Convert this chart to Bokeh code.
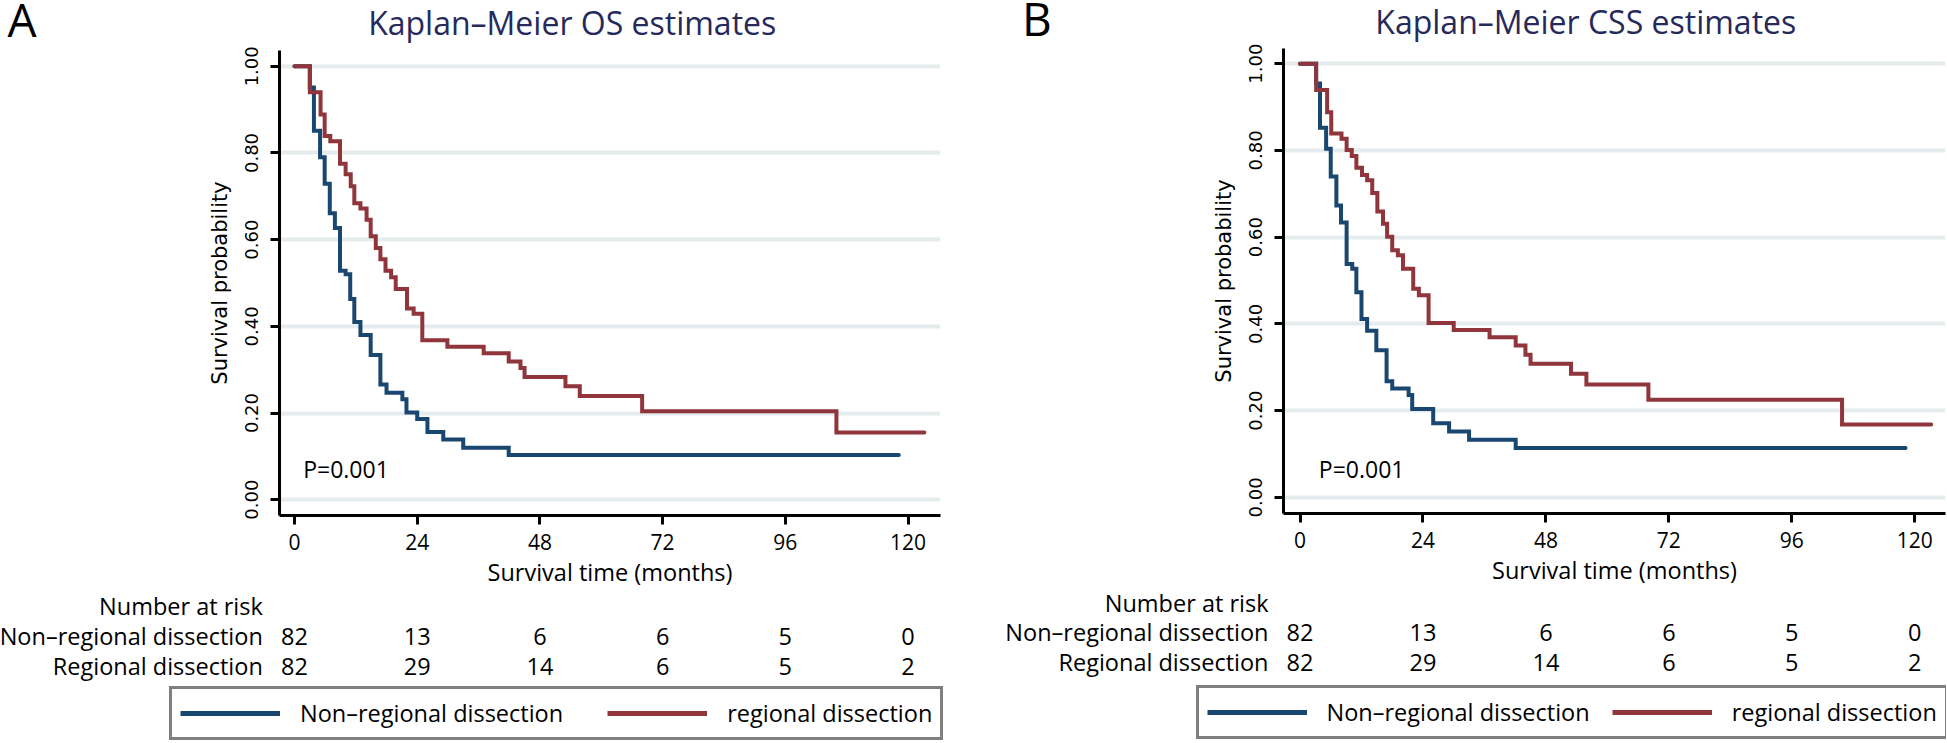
import numpy as np
from bokeh.plotting import figure
from bokeh.models import (Range1d, FixedTicker, LabelSet, ColumnDataSource,
                          Legend, LegendItem, NumeralTickFormatter)
from bokeh.layouts import row, column
from bokeh.core.properties import value
from bokeh.embed import file_html
from bokeh.resources import INLINE

# ---------------- data ----------------
risk_times = [0, 24, 48, 72, 96, 120]
risk_nonreg = [82, 13, 6, 6, 5, 0]
risk_reg = [82, 29, 14, 6, 5, 2]
x_ticks = [0, 24, 48, 72, 96, 120]
y_ticks = [0.0, 0.2, 0.4, 0.6, 0.8, 1.0]

# Overall survival (panel A)
os_nonreg_t = [0, 3.0, 3.8, 5.0, 5.9, 6.9, 7.9, 8.9, 10.0, 10.9, 11.7, 12.9, 14.9, 16.8,
               18.0, 21.1, 21.9, 24.0, 26.0, 29.1, 33.0, 41.9, 118.2]
os_nonreg_s = [1.0, 0.951, 0.851, 0.790, 0.729, 0.661, 0.627, 0.528, 0.520, 0.463, 0.410,
               0.380, 0.334, 0.266, 0.247, 0.232, 0.201, 0.186, 0.156, 0.139, 0.120, 0.103, 0.103]
os_reg_t = [0, 3.0, 5.1, 5.9, 7.0, 8.9, 10.0, 11.0, 11.7, 12.9, 14.1, 14.9, 15.9, 16.8, 17.8,
            18.9, 19.8, 22.0, 23.3, 25.0, 29.9, 37.0, 41.9, 44.2, 45.0, 53.0, 55.8, 68.0,
            106.0, 123.2]
os_reg_s = [1.0, 0.940, 0.889, 0.839, 0.827, 0.775, 0.751, 0.723, 0.684, 0.672, 0.646, 0.608,
            0.581, 0.555, 0.528, 0.513, 0.486, 0.441, 0.429, 0.368, 0.353, 0.338, 0.319, 0.304,
            0.283, 0.262, 0.239, 0.204, 0.155, 0.155]

# Cancer-specific survival (panel B)
css_nonreg_t = [0, 3.15, 3.9, 5.1, 6.0, 7.1, 8.0, 9.1, 10.2, 11.0, 12.0, 13.1, 14.9, 16.9,
                18.0, 21.2, 21.9, 26.0, 29.1, 33.0, 42.1, 118.2]
css_nonreg_s = [1.0, 0.954, 0.852, 0.804, 0.740, 0.673, 0.634, 0.538, 0.527, 0.473, 0.411,
                0.384, 0.339, 0.268, 0.251, 0.236, 0.204, 0.171, 0.152, 0.133, 0.114, 0.114]
css_reg_t = [0, 3.15, 5.3, 6.1, 8.1, 9.1, 10.1, 11.0, 12.1, 13.1, 14.1, 15.1, 16.2, 17.0, 18.0,
             19.1, 20.1, 22.1, 23.2, 25.1, 30.0, 37.0, 42.1, 44.0, 45.0, 52.9, 55.9, 68.0,
             105.8, 123.2]
css_reg_s = [1.0, 0.939, 0.888, 0.839, 0.827, 0.801, 0.787, 0.760, 0.743, 0.731, 0.702, 0.659,
             0.631, 0.601, 0.570, 0.558, 0.527, 0.481, 0.466, 0.402, 0.386, 0.369, 0.350, 0.329,
             0.308, 0.285, 0.260, 0.225, 0.168, 0.168]

group_labels = ["Non\u2013regional dissection", "Regional dissection"]
legend_labels = ["Non\u2013regional dissection", "regional dissection"]

# ---------------- style ----------------
NAVY = "#1a476f"
MAROON = "#90353b"
TITLE_C = "#262a5b"
GRID_C = "#e4ecee"
F_MAIN = "Open Sans"
F_AXIS = "DejaVu Sans"


def bare(fig):
    fig.outline_line_color = None
    fig.background_fill_color = "white"
    fig.border_fill_color = "white"
    fig.xgrid.visible = False
    fig.ygrid.visible = False
    return fig


def put_text(fig, xs, ys, texts, size, align, color="black", font=F_MAIN):
    src = ColumnDataSource(dict(x=list(xs), y=list(ys), text=list(texts)))
    fig.add_layout(LabelSet(x="x", y="y", text="text", source=src,
                            text_font=value(font), text_font_size=value(size),
                            text_color=color, text_align=align,
                            text_baseline="alphabetic"))


def make_panel(letter, title, t_nr, s_nr, t_r, s_r, g):
    W = g["W"]
    ppm = (g["t120_px"] - g["t0_px"]) / 120.0
    pps = g["s0_py"] - g["s1_py"]
    common = dict(output_backend="svg", toolbar_location=None, frame_align=False,
                  title_location=None)

    # ---------- header: panel letter + title (y counted upward from the strip bottom) ----------
    hh = g["head_h"]
    head = bare(figure(width=W, height=hh, x_range=Range1d(0, W), y_range=Range1d(0, hh),
                       x_axis_type=None, y_axis_type=None,
                       min_border_left=0, min_border_right=0, min_border_top=0,
                       min_border_bottom=0, **common))
    put_text(head, [g["letter_x"]], [hh - g["letter_y"]], [letter], "46px", "left")
    put_text(head, [g["title_x"]], [hh - g["title_y"]], [title], "32px", "center",
             color=TITLE_C)

    # ---------- main Kaplan-Meier plot ----------
    kh = g["km_h"]
    ft, fb, fl, fr = g["ft"], g["fb"], g["fl"], g["fr"]
    x0 = (fl - g["t0_px"]) / ppm
    x1 = (fr - g["t0_px"]) / ppm
    y0 = (g["s0_py"] - fb) / pps
    y1 = (g["s0_py"] - ft) / pps
    p = figure(width=W, height=kh, x_range=Range1d(x0, x1), y_range=Range1d(y0, y1),
               min_border_left=fl, min_border_right=W - fr,
               min_border_top=ft, min_border_bottom=kh - fb, **common)
    p.outline_line_color = None
    p.background_fill_color = "white"
    p.border_fill_color = "white"

    for ax in (p.xaxis[0], p.yaxis[0]):
        ax.axis_line_width = 3
        ax.axis_line_color = "black"
        ax.major_tick_line_width = 3
        ax.major_tick_line_color = "black"
        ax.major_tick_out = 9
        ax.major_tick_in = 0
        ax.minor_tick_line_color = None
        ax.major_label_text_color = "black"
        ax.axis_label_text_color = "black"
        ax.axis_label_text_font_style = "normal"

    p.xaxis.ticker = FixedTicker(ticks=x_ticks)
    p.xaxis.axis_label = "Survival time (months)"
    p.xaxis.major_label_text_font = F_MAIN
    p.xaxis.major_label_text_font_size = "21px"
    p.xaxis.major_label_standoff = 9
    p.xaxis.axis_label_text_font = F_MAIN
    p.xaxis.axis_label_text_font_size = "23.5px"
    p.xaxis.axis_label_standoff = 3

    p.yaxis.ticker = FixedTicker(ticks=y_ticks)
    p.yaxis.formatter = NumeralTickFormatter(format="0.00")
    p.yaxis.axis_label = "Survival probability"
    p.yaxis.major_label_orientation = "vertical"
    p.yaxis.major_label_text_font = F_AXIS
    p.yaxis.major_label_text_font_size = "18px"
    p.yaxis.major_label_standoff = 12
    p.yaxis.axis_label_text_font = F_AXIS
    p.yaxis.axis_label_text_font_size = "21px"
    p.yaxis.axis_label_standoff = 11

    p.xgrid.visible = False
    p.ygrid.grid_line_color = GRID_C
    p.ygrid.grid_line_width = 4

    p.step(x=t_nr, y=s_nr, mode="after", line_color=NAVY, line_width=4,
           line_join="miter", line_cap="round")
    p.step(x=t_r, y=s_r, mode="after", line_color=MAROON, line_width=4,
           line_join="miter", line_cap="round")

    put_text(p, [g["p_t"]], [g["p_s"]], ["P=0.001"], "23px", "left")

    # ---------- footer: number at risk + legend (y counted upward from the strip bottom) ----------
    fh = g["foot_h"]
    foot = bare(figure(width=W, height=fh,
                       x_range=Range1d((0 - g["t0_px"]) / ppm, (W - g["t0_px"]) / ppm),
                       y_range=Range1d(0, fh),
                       x_axis_type=None, y_axis_type=None,
                       min_border_left=0, min_border_right=0, min_border_top=0,
                       min_border_bottom=0, **common))
    rx = (g["tab_right"] - g["t0_px"]) / ppm
    put_text(foot, [rx] * 3, [fh - yy for yy in g["tab_y"]],
             ["Number at risk"] + group_labels, "23.5px", "right")
    for vals, yy in ((risk_nonreg, g["tab_y"][1]), (risk_reg, g["tab_y"][2])):
        put_text(foot, risk_times, [fh - yy] * len(risk_times),
                 [str(v) for v in vals], "23.5px", "center")

    # legend key renderers (no drawable points: they only carry the line style for the key)
    nan = np.array([np.nan])
    k_nr = foot.line(x=nan, y=nan, line_color=NAVY, line_width=5)
    k_r = foot.line(x=nan, y=nan, line_color=MAROON, line_width=5)
    leg = Legend(items=[LegendItem(label=legend_labels[0], renderers=[k_nr]),
                        LegendItem(label=legend_labels[1], renderers=[k_r])],
                 location=(g["leg_left"], fh - g["leg_bottom"]),
                 orientation="horizontal", margin=0, padding=8,
                 spacing=g["leg_spacing"], label_standoff=20, glyph_width=100,
                 glyph_height=20,
                 border_line_color="black", border_line_width=3,
                 background_fill_color="white", background_fill_alpha=1.0,
                 label_text_font=F_MAIN, label_text_font_size="23.5px",
                 label_text_color="black")
    foot.add_layout(leg)

    return column(head, p, foot)


# geometry in pixels (header / plot / footer stacked; positions measured from each strip's top)
gA = dict(W=974, head_h=44, km_h=546, foot_h=152,
          letter_x=7.0, letter_y=36.7, title_x=571.7, title_y=34.3,
          fl=279, fr=940, ft=6, fb=477, t0_px=294.0, t120_px=907.5,
          s1_py=22.0, s0_py=461.0,
          p_t=1.70, p_s=0.051,
          tab_right=262.3, tab_y=[24.0, 54.0, 84.0],
          leg_left=169.0, leg_bottom=150.2, leg_spacing=44)
gB = dict(W=972, head_h=42, km_h=546, foot_h=154,
          letter_x=47.5, letter_y=35.0, title_x=611.3, title_y=33.0,
          fl=309, fr=971, ft=6, fb=476, t0_px=325.5, t120_px=940.3,
          s1_py=21.3, s0_py=459.7,
          p_t=3.67, p_s=0.044,
          tab_right=294.0, tab_y=[23.7, 52.7, 82.0],
          leg_left=221.5, leg_bottom=150.5, leg_spacing=22)

colA = make_panel("A", "Kaplan\u2013Meier OS estimates", os_nonreg_t, os_nonreg_s,
                  os_reg_t, os_reg_s, gA)
colB = make_panel("B", "Kaplan\u2013Meier CSS estimates", css_nonreg_t, css_nonreg_s,
                  css_reg_t, css_reg_s, gB)

layout = row(colA, colB)
open("out.html", "w").write(file_html(layout, INLINE))
